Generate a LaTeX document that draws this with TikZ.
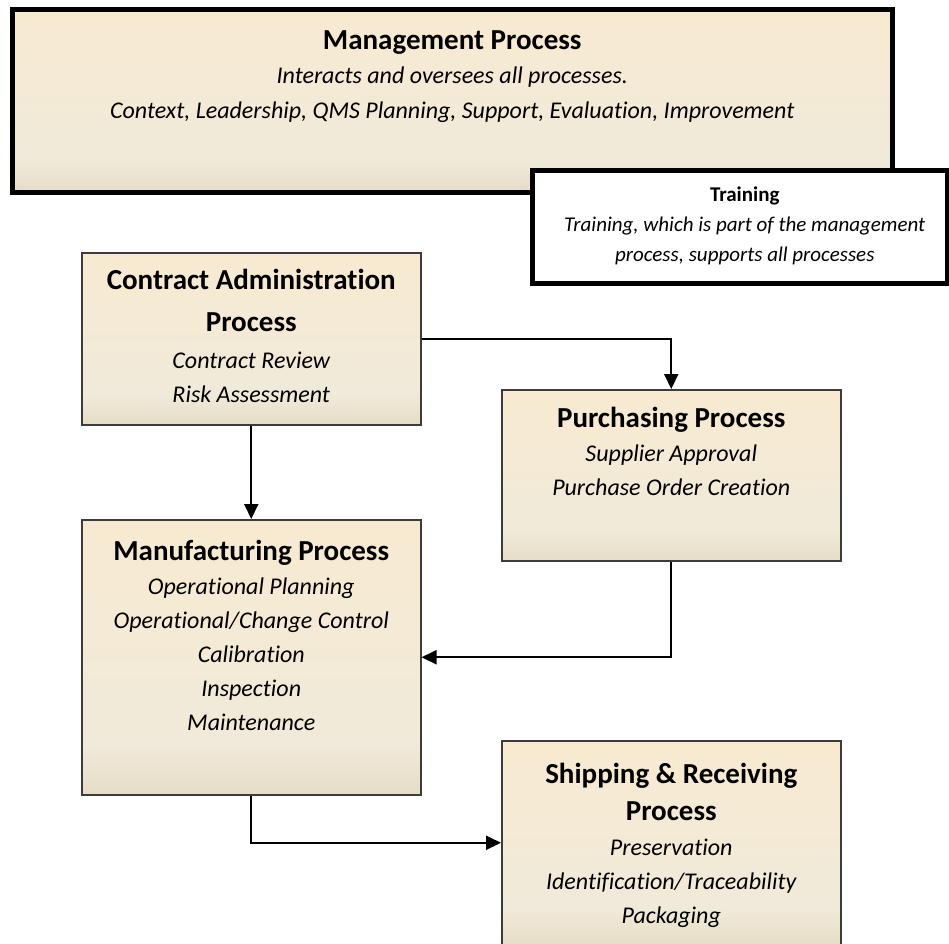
\documentclass[tikz,border=0pt]{standalone}
\usepackage{fontspec}
\setmainfont{Carlito}[Ligatures={NoCommon}]
\usetikzlibrary{arrows.meta, positioning}
\definecolor{peachT}{HTML}{FDEACB}
\definecolor{creamM}{HTML}{F0EADA}
\definecolor{tanD}{HTML}{D3C3A0}
\definecolor{edgeG}{HTML}{3C3C3C}
\pgfdeclareverticalshading{parchment}{100bp}{color(0bp)=(tanD); color(22bp)=(tanD!45!creamM); color(34bp)=(creamM); color(100bp)=(peachT)}
\tikzset{
  procbox/.style={draw=edgeG, line width=1.5pt, shading=parchment, anchor=north west, inner sep=0pt},
  mgmtbox/.style={draw=black, line width=4.5pt, anchor=north west, inner sep=0pt},
  boxtext/.style={align=center, inner sep=0pt, anchor=north, font=\fontsize{24}{34}\selectfont\itshape},
  flow/.style={draw=black, line width=2pt, -{Triangle[length=15pt, width=14pt]}}
}
\newcommand{\boxtitle}[1]{{\upshape\bfseries\fontsize{29}{34}\selectfont #1}}

\begin{document}
\begin{tikzpicture}[x=1pt, y=-1pt]
        \useasboundingbox (0,0) rectangle (949,943);
        \clip (0,0) rectangle (949,943);
        % management and training
        \node[mgmtbox, shading=parchment, minimum width=880pt, minimum height=183pt] (mgmt) at (10,7) {};
        \node[boxtext, below=23pt of mgmt.north] (mgmt-txt)
            {\boxtitle{Management Process}\\Interacts and oversees all processes.\\[1pt]Context, Leadership, QMS Planning, Support, Evaluation, Improvement};
        \node[mgmtbox, fill=white, minimum width=415pt, minimum height=113pt] (train) at (530,168) {};
        \node[boxtext, below=19pt of train.north, xshift=5pt, font=\fontsize{21}{30}\selectfont\itshape] (train-txt)
            {{\upshape\bfseries Training}\\Training, which is part of the management\\process, supports all processes};
        % process boxes
        \node[procbox, minimum width=339pt, minimum height=172pt] (contract) at (81,252) {};
        \node[procbox, minimum width=339pt, minimum height=171pt] (purch) at (501,389) {};
        \node[procbox, minimum width=339pt, minimum height=275pt] (manuf) at (81,519) {};
        \node[procbox, minimum width=339pt, minimum height=204pt] (ship) at (501,740) {};
        \node[boxtext, below=17pt of contract.north] (contract-txt)
            {\boxtitle{Contract Administration}\\[8pt]\boxtitle{Process}\\[3pt]Contract Review\\Risk Assessment};
        \node[boxtext, below=18pt of purch.north] (purch-txt)
            {\boxtitle{Purchasing Process}\\Supplier Approval\\Purchase Order Creation};
        \node[boxtext, below=21pt of manuf.north] (manuf-txt)
            {\boxtitle{Manufacturing Process}\\Operational Planning\\Operational/Change Control\\Calibration\\Inspection\\Maintenance};
        \node[boxtext, below=23pt of ship.north] (ship-txt)
            {\boxtitle{Shipping \& Receiving}\\[3pt]\boxtitle{Process}\\[1pt]Preservation\\Identification/Traceability\\Packaging};
        % connectors
        \draw[flow] (contract.east) -| (purch.north);
        \draw[flow] (contract.south) -- (manuf.north);
        \draw[flow] (purch.south) |- (manuf.east);
        \draw[flow] (manuf.south) |- (ship.west);
    \end{tikzpicture}
\end{document}
